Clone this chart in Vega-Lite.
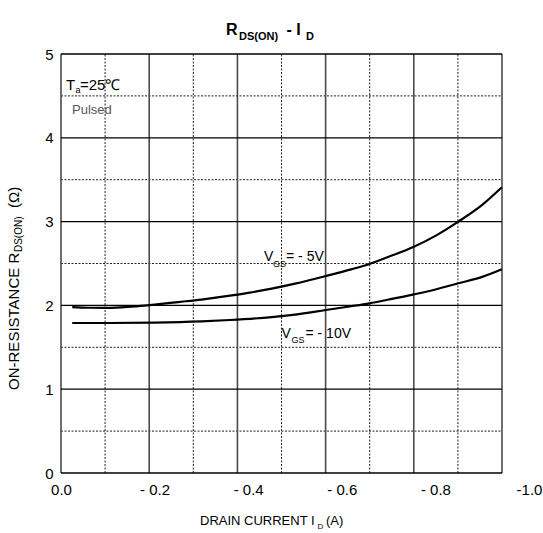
{
  "$schema": "https://vega.github.io/schema/vega-lite/v6.json",
  "width": 468,
  "height": 419,
  "autosize": {"type": "none"},
  "padding": {"left": 61, "top": 54, "right": 14, "bottom": 60},
  "background": "white",
  "data": {"values": [{}]},
  "config": {
    "font": "Liberation Sans",
    "view": {"stroke": null},
    "text": {"font": "Liberation Sans", "color": "black", "align": "left", "baseline": "alphabetic"}
  },
  "datasets": {
    "curves": [
      {"series": "-5V", "id": -0.024, "r": 1.98},
      {"series": "-5V", "id": -0.06, "r": 1.972},
      {"series": "-5V", "id": -0.1, "r": 1.97},
      {"series": "-5V", "id": -0.15, "r": 1.985},
      {"series": "-5V", "id": -0.2, "r": 2.01},
      {"series": "-5V", "id": -0.25, "r": 2.04},
      {"series": "-5V", "id": -0.3, "r": 2.07},
      {"series": "-5V", "id": -0.361, "r": 2.116},
      {"series": "-5V", "id": -0.4, "r": 2.15},
      {"series": "-5V", "id": -0.45, "r": 2.2},
      {"series": "-5V", "id": -0.5, "r": 2.26},
      {"series": "-5V", "id": -0.566, "r": 2.351},
      {"series": "-5V", "id": -0.62, "r": 2.43},
      {"series": "-5V", "id": -0.659, "r": 2.494},
      {"series": "-5V", "id": -0.7, "r": 2.58},
      {"series": "-5V", "id": -0.754, "r": 2.7},
      {"series": "-5V", "id": -0.8, "r": 2.83},
      {"series": "-5V", "id": -0.849, "r": 3.0},
      {"series": "-5V", "id": -0.9, "r": 3.2},
      {"series": "-5V", "id": -0.942, "r": 3.41},
      {"series": "-10V", "id": -0.024, "r": 1.79},
      {"series": "-10V", "id": -0.1, "r": 1.79},
      {"series": "-10V", "id": -0.2, "r": 1.795},
      {"series": "-10V", "id": -0.3, "r": 1.81},
      {"series": "-10V", "id": -0.361, "r": 1.826},
      {"series": "-10V", "id": -0.45, "r": 1.86},
      {"series": "-10V", "id": -0.5, "r": 1.89},
      {"series": "-10V", "id": -0.566, "r": 1.945},
      {"series": "-10V", "id": -0.62, "r": 1.99},
      {"series": "-10V", "id": -0.659, "r": 2.025},
      {"series": "-10V", "id": -0.7, "r": 2.07},
      {"series": "-10V", "id": -0.754, "r": 2.132},
      {"series": "-10V", "id": -0.8, "r": 2.19},
      {"series": "-10V", "id": -0.849, "r": 2.264},
      {"series": "-10V", "id": -0.9, "r": 2.34},
      {"series": "-10V", "id": -0.942, "r": 2.431}
    ],
    "vgrid": [
      {"gx": 0, "kind": "major"},
      {"gx": -0.1885, "kind": "major"},
      {"gx": -0.377, "kind": "major"},
      {"gx": -0.5654, "kind": "major"},
      {"gx": -0.7538, "kind": "major"},
      {"gx": -0.9423, "kind": "major"},
      {"gx": -0.0942, "kind": "minor"},
      {"gx": -0.2827, "kind": "minor"},
      {"gx": -0.4712, "kind": "minor"},
      {"gx": -0.6596, "kind": "minor"},
      {"gx": -0.8481, "kind": "minor"}
    ],
    "hgrid": [
      {"gy": 0, "kind": "major"},
      {"gy": 1, "kind": "major"},
      {"gy": 2, "kind": "major"},
      {"gy": 3, "kind": "major"},
      {"gy": 4, "kind": "major"},
      {"gy": 5, "kind": "major"},
      {"gy": 0.5, "kind": "minor"},
      {"gy": 1.5, "kind": "minor"},
      {"gy": 2.5, "kind": "minor"},
      {"gy": 3.5, "kind": "minor"},
      {"gy": 4.5, "kind": "minor"}
    ]
  },
  "layer": [
    {
      "data": {"name": "vgrid"},
      "transform": [{"filter": "datum.kind == 'minor'"}],
      "mark": {"type": "rule", "color": "#222", "strokeWidth": 1, "strokeDash": [2, 1.5]},
      "encoding": {
        "x": {"field": "gx", "type": "quantitative", "title": null,
          "scale": {"domain": [0, -1], "nice": false, "zero": false},
          "axis": {"values": [0, -0.2, -0.4, -0.6, -0.8, -1], "labelExpr": "datum.value == 0 ? '0.0' : datum.value == -1 ? '-1.0' : '- ' + format(-datum.value, '.1f')",
            "domain": false, "ticks": false, "grid": false, "labelPadding": 9, "labelFontSize": 15, "labelColor": "black",
            "labelFlush": false, "labelOverlap": false, "labelBound": false, "title": null}
        },
        "y": {"datum": 0, "type": "quantitative", "title": null,
          "scale": {"domain": [0, 5], "nice": false, "zero": false},
          "axis": {"values": [0, 1, 2, 3, 4, 5], "format": "d", "domain": false, "ticks": false, "grid": false,
            "labelPadding": 8, "labelFontSize": 15, "labelColor": "black", "labelFlush": false, "labelOverlap": false, "title": null}
        },
        "y2": {"datum": 5}
      }
    },
    {
      "data": {"name": "hgrid"},
      "transform": [{"filter": "datum.kind == 'minor'"}],
      "mark": {"type": "rule", "color": "#222", "strokeWidth": 1, "strokeDash": [2, 1.5]},
      "encoding": {
        "y": {"field": "gy", "type": "quantitative", "title": null},
        "x": {"datum": 0, "type": "quantitative", "title": null},
        "x2": {"datum": -0.9423}
      }
    },
    {
      "data": {"name": "vgrid"},
      "transform": [{"filter": "datum.kind == 'major'"}],
      "mark": {"type": "rule", "color": "#4a4a4a", "strokeWidth": 1.6},
      "encoding": {
        "x": {"field": "gx", "type": "quantitative", "title": null},
        "y": {"datum": 0, "type": "quantitative", "title": null},
        "y2": {"datum": 5}
      }
    },
    {
      "data": {"name": "hgrid"},
      "transform": [{"filter": "datum.kind == 'major'"}],
      "mark": {"type": "rule", "color": "black", "strokeWidth": 1.3},
      "encoding": {
        "y": {"field": "gy", "type": "quantitative", "title": null},
        "x": {"datum": 0, "type": "quantitative", "title": null},
        "x2": {"datum": -0.9423}
      }
    },
    {
      "data": {"name": "curves"},
      "mark": {"type": "line", "color": "black", "strokeWidth": 2.2, "interpolate": "monotone"},
      "encoding": {
        "x": {"field": "id", "type": "quantitative", "title": null},
        "y": {"field": "r", "type": "quantitative", "title": null},
        "detail": {"field": "series"}
      }
    },
    {"mark": {"type": "text", "text": "R", "fontSize": 16, "fontWeight": "bold"},
     "encoding": {"x": {"datum": -0.3526, "type": "quantitative"}, "y": {"datum": 5.227, "type": "quantitative"}}},
    {"mark": {"type": "text", "text": "DS(ON)", "fontSize": 11, "fontWeight": "bold"},
     "encoding": {"x": {"datum": -0.3803, "type": "quantitative"}, "y": {"datum": 5.167, "type": "quantitative"}}},
    {"mark": {"type": "text", "text": "- I", "fontSize": 16, "fontWeight": "bold"},
     "encoding": {"x": {"datum": -0.4818, "type": "quantitative"}, "y": {"datum": 5.227, "type": "quantitative"}}},
    {"mark": {"type": "text", "text": "D", "fontSize": 11, "fontWeight": "bold"},
     "encoding": {"x": {"datum": -0.5235, "type": "quantitative"}, "y": {"datum": 5.167, "type": "quantitative"}}},

    {"mark": {"type": "text", "text": "T", "fontSize": 15},
     "encoding": {"x": {"datum": -0.0107, "type": "quantitative"}, "y": {"datum": 4.57, "type": "quantitative"}}},
    {"mark": {"type": "text", "text": "a", "fontSize": 9},
     "encoding": {"x": {"datum": -0.031, "type": "quantitative"}, "y": {"datum": 4.535, "type": "quantitative"}}},
    {"mark": {"type": "text", "text": "=25℃", "fontSize": 15},
     "encoding": {"x": {"datum": -0.0406, "type": "quantitative"}, "y": {"datum": 4.57, "type": "quantitative"}}},
    {"mark": {"type": "text", "text": "Pulsed", "fontSize": 13, "color": "#555"},
     "encoding": {"x": {"datum": -0.0235, "type": "quantitative"}, "y": {"datum": 4.284, "type": "quantitative"}}},

    {"mark": {"type": "text", "text": "V", "fontSize": 14},
     "encoding": {"x": {"datum": -0.4338, "type": "quantitative"}, "y": {"datum": 2.53, "type": "quantitative"}}},
    {"mark": {"type": "text", "text": "GS", "fontSize": 9},
     "encoding": {"x": {"datum": -0.453, "type": "quantitative"}, "y": {"datum": 2.462, "type": "quantitative"}}},
    {"mark": {"type": "text", "text": "= - 5V", "fontSize": 14},
     "encoding": {"x": {"datum": -0.4808, "type": "quantitative"}, "y": {"datum": 2.53, "type": "quantitative"}}},

    {"mark": {"type": "text", "text": "V", "fontSize": 14},
     "encoding": {"x": {"datum": -0.4712, "type": "quantitative"}, "y": {"datum": 1.615, "type": "quantitative"}}},
    {"mark": {"type": "text", "text": "GS", "fontSize": 9},
     "encoding": {"x": {"datum": -0.4925, "type": "quantitative"}, "y": {"datum": 1.548, "type": "quantitative"}}},
    {"mark": {"type": "text", "text": "= - 10V", "fontSize": 14},
     "encoding": {"x": {"datum": -0.5224, "type": "quantitative"}, "y": {"datum": 1.615, "type": "quantitative"}}},

    {"mark": {"type": "text", "text": "DRAIN CURRENT I", "fontSize": 13},
     "encoding": {"x": {"datum": -0.297, "type": "quantitative"}, "y": {"datum": -0.6205, "type": "quantitative"}}},
    {"mark": {"type": "text", "text": "D", "fontSize": 8},
     "encoding": {"x": {"datum": -0.548, "type": "quantitative"}, "y": {"datum": -0.668, "type": "quantitative"}}},
    {"mark": {"type": "text", "text": "(A)", "fontSize": 13},
     "encoding": {"x": {"datum": -0.5662, "type": "quantitative"}, "y": {"datum": -0.6205, "type": "quantitative"}}},

    {"mark": {"type": "text", "text": "ON-RESISTANCE R", "fontSize": 15, "angle": 270},
     "encoding": {"x": {"datum": 0.0897, "type": "quantitative"}, "y": {"datum": 0.991, "type": "quantitative"}}},
    {"mark": {"type": "text", "text": "DS(ON)", "fontSize": 10, "angle": 270},
     "encoding": {"x": {"datum": 0.0833, "type": "quantitative"}, "y": {"datum": 2.637, "type": "quantitative"}}},
    {"mark": {"type": "text", "text": "(Ω)", "fontSize": 15, "angle": 270},
     "encoding": {"x": {"datum": 0.0897, "type": "quantitative"}, "y": {"datum": 3.162, "type": "quantitative"}}}
  ]
}
